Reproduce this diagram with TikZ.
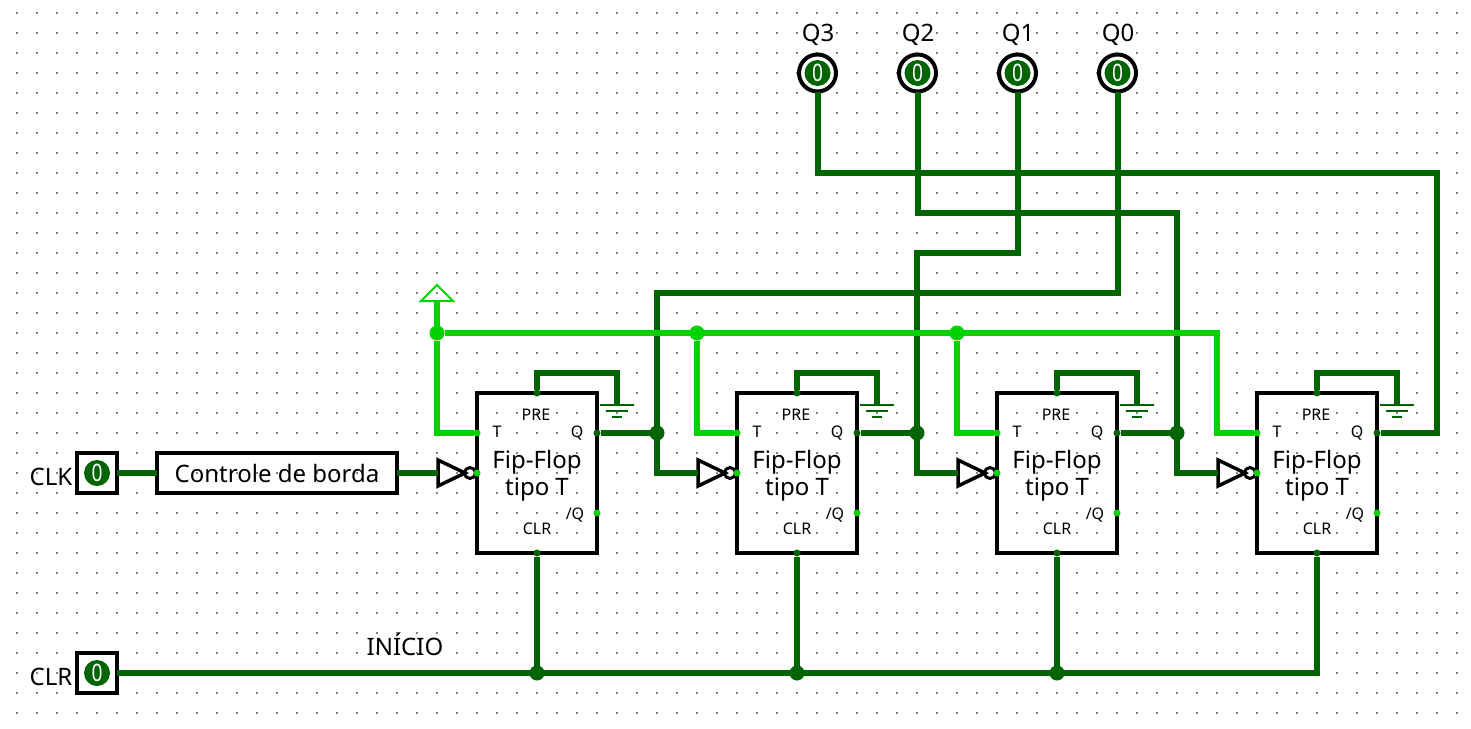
\documentclass[tikz,border=0pt]{standalone}
\usepackage{fontspec}
\setmainfont{Noto Sans}
\definecolor{wirelow}{RGB}{0, 100, 0}
\definecolor{wirehigh}{RGB}{0, 210, 0}
\definecolor{griddot}{RGB}{128, 128, 128}
\usetikzlibrary{shapes.geometric, positioning}
\newcommand{\bitzero}{\scalebox{0.8}[1]{0}}
\tikzset{
    flipflop/.style={rectangle, draw=black, line width=4pt, minimum width=120pt, minimum height=160pt, inner sep=0pt, outer sep=0pt},
    fftext/.style={align=center, inner sep=0pt, font=\fontsize{24}{26.5}\selectfont},
    edgebox/.style={rectangle, draw=black, line width=4pt, minimum width=240pt, minimum height=40pt, inner sep=0pt, outer sep=0pt, font=\fontsize{24}{27}\selectfont},
    inputbox/.style={rectangle, draw=black, line width=4pt, minimum size=40pt, inner sep=0pt, outer sep=0pt},
    outputring/.style={circle, draw=black, line width=4pt, minimum size=37pt, inner sep=0pt, outer sep=0pt},
    bitvalue/.style={circle, fill=wirelow, minimum size=26pt, inner sep=0pt, text=white, font=\fontsize{24}{24}\selectfont},
    inverter/.style={isosceles triangle, isosceles triangle stretches, shape border rotate=0, draw=black, line width=3.5pt, minimum width=26pt, minimum height=27pt, inner sep=0pt, outer sep=0pt, anchor=lower side},
    bubble/.style={circle, draw=black, line width=3pt, minimum size=11pt, inner sep=0pt, outer sep=0pt},
    power/.style={isosceles triangle, isosceles triangle stretches, shape border rotate=90, draw=wirehigh, line width=2pt, minimum width=32pt, minimum height=16pt, inner sep=0pt, outer sep=0pt, anchor=lower side},
    lowpin/.style={circle, fill=wirelow, minimum size=7pt, inner sep=0pt, outer sep=0pt},
    highpin/.style={circle, fill=wirehigh, minimum size=7pt, inner sep=0pt, outer sep=0pt},
    lowjoint/.style={circle, fill=wirelow, minimum size=15pt, inner sep=0pt, outer sep=0pt},
    highjoint/.style={circle, fill=wirehigh, minimum size=15pt, inner sep=0pt, outer sep=0pt},
    wirel/.style={draw=wirelow, line width=6pt},
    wireh/.style={draw=wirehigh, line width=6pt},
    pinlabel/.style={font=\fontsize{16}{16}\selectfont, inner sep=0pt},
    sidelabel/.style={font=\fontsize{24}{24}\selectfont, inner sep=0pt},
    groundmark/.pic={
        \draw[wirelow, line width=2pt] (-17,0) -- (17,0);
        \draw[wirelow, line width=2pt] (-11,6) -- (11,6);
        \draw[wirelow, line width=2pt] (-5,12) -- (5,12);
    }
}
\begin{document}
\begin{tikzpicture}[x=1pt, y=-1pt]
    \useasboundingbox (0,0) rectangle (1471,728);
    % Background dots
    \foreach \i in {0,...,72}
        \foreach \j in {0,...,35}
            \fill[griddot] (17+20*\i-1,13+20*\j-1) rectangle ++(2,2);

    % Inputs
    \node[sidelabel] (clklabel) at (51,477) {CLK};
    \node[inputbox] (clkbox) at (97,473) {};
    \node[bitvalue] (clkval) at (97,473) {\bitzero};
    \node[sidelabel] (clrlabel) at (51,677) {CLR};
    \node[inputbox] (clrbox) at (97,673) {};
    \node[bitvalue] (clrval) at (97,673) {\bitzero};
    \node[sidelabel] (inicio) at (405,644) {INÍCIO};

    % Edge control
    \node[edgebox] (edge) at (277,473) {Controle de borda};

    % Outputs
    \node[sidelabel] (q3label) at (818,35) {Q3};
    \node[outputring] (out3) at (817.5,73) {};
    \node[bitvalue] (val3) at (817.5,73) {\bitzero};
    \node[sidelabel] (q2label) at (918,35) {Q2};
    \node[outputring] (out2) at (917.5,73) {};
    \node[bitvalue] (val2) at (917.5,73) {\bitzero};
    \node[sidelabel] (q1label) at (1018,35) {Q1};
    \node[outputring] (out1) at (1017.5,73) {};
    \node[bitvalue] (val1) at (1017.5,73) {\bitzero};
    \node[sidelabel] (q0label) at (1118,35) {Q0};
    \node[outputring] (out0) at (1117.5,73) {};
    \node[bitvalue] (val0) at (1117.5,73) {\bitzero};

    % Flip-flop 1
    \node[flipflop] (ff1) at (537,473) {};
    \node[fftext] (ff1text) at (537,476) {Fip-Flop\\tipo T};
    \node[pinlabel] (ff1tl) at (497,432) {T};
    \node[pinlabel] (ff1prel) at (536,415) {PRE};
    \node[pinlabel] (ff1ql) at (577,433) {Q};
    \node[pinlabel] (ff1nql) at (575,515) {/Q};
    \node[pinlabel] (ff1clrl) at (537,529) {CLR};
    \node[inverter] (inv1) at (438,473) {};
    \node[bubble] (bub1) at (470,473) {};
    \node[highpin] (ff1t) at (477,433) {};
    \node[highpin] (ff1clk) at (477,473) {};
    \node[lowpin] (ff1q) at (597,433) {};
    \node[highpin] (ff1nq) at (597,513) {};
    \node[lowpin] (ff1pre) at (537,393) {};
    \node[lowpin] (ff1clr) at (537,553) {};
    \coordinate (gnd1) at (617,405);

    % Flip-flop 2
    \node[flipflop] (ff2) at (797,473) {};
    \node[fftext] (ff2text) at (797,476) {Fip-Flop\\tipo T};
    \node[pinlabel] (ff2tl) at (757,432) {T};
    \node[pinlabel] (ff2prel) at (796,415) {PRE};
    \node[pinlabel] (ff2ql) at (837,433) {Q};
    \node[pinlabel] (ff2nql) at (835,515) {/Q};
    \node[pinlabel] (ff2clrl) at (797,529) {CLR};
    \node[inverter] (inv2) at (698,473) {};
    \node[bubble] (bub2) at (730,473) {};
    \node[highpin] (ff2t) at (737,433) {};
    \node[highpin] (ff2clk) at (737,473) {};
    \node[lowpin] (ff2q) at (857,433) {};
    \node[highpin] (ff2nq) at (857,513) {};
    \node[lowpin] (ff2pre) at (797,393) {};
    \node[lowpin] (ff2clr) at (797,553) {};
    \coordinate (gnd2) at (877,405);

    % Flip-flop 3
    \node[flipflop] (ff3) at (1057,473) {};
    \node[fftext] (ff3text) at (1057,476) {Fip-Flop\\tipo T};
    \node[pinlabel] (ff3tl) at (1017,432) {T};
    \node[pinlabel] (ff3prel) at (1056,415) {PRE};
    \node[pinlabel] (ff3ql) at (1097,433) {Q};
    \node[pinlabel] (ff3nql) at (1095,515) {/Q};
    \node[pinlabel] (ff3clrl) at (1057,529) {CLR};
    \node[inverter] (inv3) at (958,473) {};
    \node[bubble] (bub3) at (990,473) {};
    \node[highpin] (ff3t) at (997,433) {};
    \node[highpin] (ff3clk) at (997,473) {};
    \node[lowpin] (ff3q) at (1117,433) {};
    \node[highpin] (ff3nq) at (1117,513) {};
    \node[lowpin] (ff3pre) at (1057,393) {};
    \node[lowpin] (ff3clr) at (1057,553) {};
    \coordinate (gnd3) at (1137,405);

    % Flip-flop 4
    \node[flipflop] (ff4) at (1317,473) {};
    \node[fftext] (ff4text) at (1317,476) {Fip-Flop\\tipo T};
    \node[pinlabel] (ff4tl) at (1277,432) {T};
    \node[pinlabel] (ff4prel) at (1316,415) {PRE};
    \node[pinlabel] (ff4ql) at (1357,433) {Q};
    \node[pinlabel] (ff4nql) at (1355,515) {/Q};
    \node[pinlabel] (ff4clrl) at (1317,529) {CLR};
    \node[inverter] (inv4) at (1218,473) {};
    \node[bubble] (bub4) at (1250,473) {};
    \node[highpin] (ff4t) at (1257,433) {};
    \node[highpin] (ff4clk) at (1257,473) {};
    \node[lowpin] (ff4q) at (1377,433) {};
    \node[highpin] (ff4nq) at (1377,513) {};
    \node[lowpin] (ff4pre) at (1317,393) {};
    \node[lowpin] (ff4clr) at (1317,553) {};
    \coordinate (gnd4) at (1397,405);

    % Ground marks
    \pic at (gnd1) {groundmark};
    \pic at (gnd2) {groundmark};
    \pic at (gnd3) {groundmark};
    \pic at (gnd4) {groundmark};

    % Joints and wire bends
    \node[lowjoint] (j1) at (657,433) {};
    \node[lowjoint] (j2) at (917,433) {};
    \node[lowjoint] (j3) at (1177,433) {};
    \node[lowjoint] (c1) at (537,673) {};
    \node[lowjoint] (c2) at (797,673) {};
    \node[lowjoint] (c3) at (1057,673) {};
    \node[power] (vcc) at (437,301) {};
    \node[highjoint] (h1) at (437,333) {};
    \node[highjoint] (h2) at (697,333) {};
    \node[highjoint] (h3) at (957,333) {};
    \coordinate (busend) at (1217,333);
    \coordinate (q3bend) at (1437,173);
    \coordinate (q2bend) at (1177,213);
    \coordinate (q1bend) at (917,253);
    \coordinate (q0bend) at (657,293);

    % Low wires
    \draw[wirel] (clkbox) -- (edge);
    \draw[wirel] (edge) -- (inv1.lower side);
    \draw[wirel] (ff1pre) -- ++(0,-20) -| (gnd1);
    \draw[wirel] (ff2pre) -- ++(0,-20) -| (gnd2);
    \draw[wirel] (ff3pre) -- ++(0,-20) -| (gnd3);
    \draw[wirel] (ff4pre) -- ++(0,-20) -| (gnd4);
    \draw[wirel] (ff1q) -- (j1);
    \draw[wirel] (ff2q) -- (j2);
    \draw[wirel] (ff3q) -- (j3);
    \draw[wirel] (out3) |- (q3bend) |- (ff4q);
    \draw[wirel] (out2) |- (q2bend) |- (inv4.lower side);
    \draw[wirel] (out1) |- (q1bend) |- (inv3.lower side);
    \draw[wirel] (out0) |- (q0bend) |- (inv2.lower side);
    \draw[wirel] (ff1clr) -- (c1);
    \draw[wirel] (ff2clr) -- (c2);
    \draw[wirel] (ff3clr) -- (c3);
    \draw[wirel] (clrbox) -| (ff4clr);

    % High wires
    \draw[wireh] (vcc.lower side) -- (h1);
    \draw[wireh] (h1) |- (ff1t);
    \draw[wireh] (h2) |- (ff2t);
    \draw[wireh] (h3) |- (ff3t);
    \draw[wireh] (h1) -- (busend) |- (ff4t);
\end{tikzpicture}
\end{document}
